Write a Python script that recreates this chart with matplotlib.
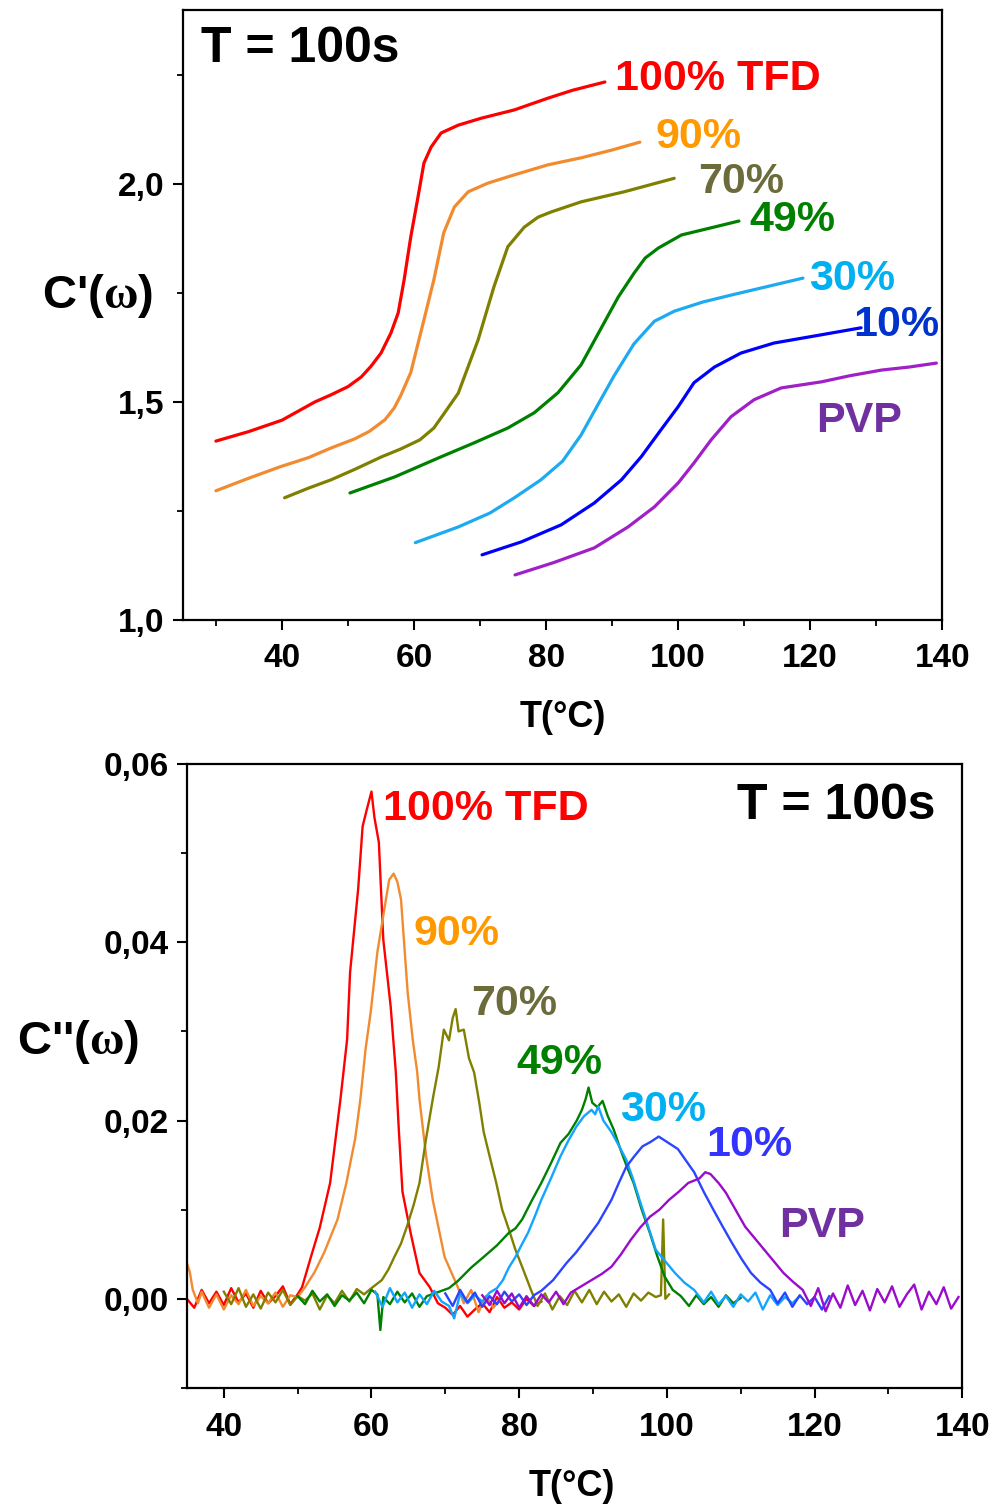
"""Two-panel C'(w) / C''(w) vs temperature, T = 100s."""

import matplotlib

matplotlib.use("Agg")
import matplotlib.pyplot as plt
from matplotlib.ticker import MultipleLocator, FuncFormatter

plt.rcParams["font.family"] = ["Liberation Sans", "DejaVu Sans"]
plt.rcParams["font.weight"] = "bold"
plt.rcParams["mathtext.fontset"] = "custom"
plt.rcParams["mathtext.rm"] = "Liberation Serif"
plt.rcParams["mathtext.it"] = "Liberation Serif"

names = ["100% TFD", "90%", "70%", "49%", "30%", "10%", "PVP"]
line_top = ["#ff0000", "#f28a30", "#808000", "#008000", "#1eaaf1", "#0000ff", "#a020c8"]
line_bot = ["#ff0000", "#f28a30", "#808000", "#008000", "#12a4ff", "#2a44ff", "#9a0ccc"]
label_top = ["#ff0000", "#ff9900", "#6b6b3b", "#008000", "#00b0f0", "#0033cc", "#7030a0"]
label_bot = ["#ff0000", "#ff9900", "#6b6b3b", "#008000", "#00b0f0", "#3333ff", "#7030a0"]

# ---- top panel: C'(w)
t_100 = [30, 35, 40, 45, 47.4, 50, 52, 53.5, 55, 56.5, 57.6, 58.5, 59.5, 60.6, 61.5, 62.6, 64.1, 66.7,
         70.2, 75.2, 80.3, 84, 88.9]
c_100 = [1.41, 1.432, 1.458, 1.50, 1.516, 1.535, 1.557, 1.582, 1.612, 1.658, 1.704, 1.78, 1.878, 1.97,
         2.048, 2.085, 2.117, 2.135, 2.151, 2.17, 2.197, 2.215, 2.234]
t_90 = [30, 35, 39.7, 44, 47.4, 51, 53.2, 55.6, 57, 58, 59.5, 61.5, 63, 64.5, 66.1, 68.2, 71.2, 75.2,
        80.3, 85.3, 90, 94.2]
c_90 = [1.296, 1.325, 1.351, 1.372, 1.394, 1.415, 1.432, 1.459, 1.486, 1.515, 1.567, 1.688, 1.78, 1.888,
        1.947, 1.982, 2.002, 2.021, 2.044, 2.06, 2.078, 2.096]
t_70 = [40.4, 44, 47.4, 51, 55.1, 58, 60.9, 63, 64.4, 66.7, 69.7, 72.1, 74.2, 76.7, 78.8, 80.8, 85.3,
        91.8, 99.4]
c_70 = [1.28, 1.302, 1.321, 1.345, 1.374, 1.392, 1.413, 1.44, 1.47, 1.52, 1.642, 1.764, 1.856, 1.901,
        1.924, 1.936, 1.959, 1.982, 2.013]
t_49 = [50.3, 57.1, 64.1, 69.1, 74.2, 78.2, 81.8, 85.3, 88.3, 90.9, 93.3, 95, 97, 100.5, 103.5, 106.5,
        109.2]
c_49 = [1.291, 1.328, 1.374, 1.406, 1.44, 1.475, 1.521, 1.585, 1.668, 1.74, 1.795, 1.83, 1.853, 1.883,
        1.894, 1.905, 1.915]
t_30 = [60.2, 66.7, 71.5, 75.2, 79.2, 82.5, 85.3, 87.9, 90.3, 93.3, 96.4, 99.4, 103.7, 108, 113.6, 118.9]
c_30 = [1.177, 1.213, 1.245, 1.28, 1.321, 1.364, 1.424, 1.495, 1.56, 1.633, 1.685, 1.708, 1.729, 1.745,
        1.765, 1.784]
t_10 = [70.3, 76.3, 82.3, 87.3, 91.4, 94.4, 97.4, 100, 102.4, 105.5, 109.5, 114.5, 121.7, 127.7]
c_10 = [1.149, 1.179, 1.218, 1.268, 1.321, 1.374, 1.436, 1.489, 1.544, 1.58, 1.612, 1.635, 1.654, 1.67]
t_pvp = [75.3, 81.1, 87.3, 92.4, 96.4, 100, 102.4, 105, 108, 111.5, 115.6, 121.7, 126, 130.8, 135, 139.1]
c_pvp = [1.103, 1.131, 1.165, 1.213, 1.259, 1.314, 1.36, 1.413, 1.466, 1.505, 1.532, 1.546, 1.56, 1.573,
         1.58, 1.589]

top_t = [t_100, t_90, t_70, t_49, t_30, t_10, t_pvp]
top_c = [c_100, c_90, c_70, c_49, c_30, c_10, c_pvp]
top_lab_x = [90.5, 96.5, 103, 110.8, 119.8, 126.5, 120.9]
top_lab_y = [2.24, 2.108, 2.005, 1.918, 1.783, 1.677, 1.455]

# ---- bottom panel: C''(w)
b_t_100 = [35, 36, 37, 38, 39, 40, 41, 42, 43, 44, 45, 46, 47, 48, 49, 50, 50.6, 51.8, 53, 54.4, 55.8,
           56.7, 57.1, 58.2, 58.8, 59.4, 60, 60.4, 61, 61.6, 62.6, 63.3, 63.7, 64.2, 65.3, 66.5, 67.9, 69,
           70, 71, 72, 73, 74, 75, 76, 77, 78, 79, 80, 81, 82, 83]
b_v_100 = [0.0, -0.001, 0.001, -0.0005, 0.0008, -0.0007, 0.0012, -0.0004, 0.0006, -0.001, 0.0009,
           -0.0005, 0.0003, 0.0014, -0.0006, 0.0005, 0.0013, 0.0047, 0.008, 0.013, 0.0224, 0.0291,
           0.0366, 0.046, 0.053, 0.055, 0.0569, 0.054, 0.0512, 0.0403, 0.0328, 0.0254, 0.019, 0.012,
           0.0074, 0.0029, 0.0013, -0.0005, -0.001, -0.0018, -0.0008, -0.002, -0.0012, -0.0005,
           -0.0015, 0.0002, -0.001, -0.0004, -0.0012, 0.0, -0.0008, -0.0003]
b_t_90 = [35, 35.4, 35.8, 36.5, 37, 38, 39, 40, 41, 42, 43, 44, 45, 46, 47, 48, 49, 50, 51, 52.3, 53.6,
          55.4, 56.6, 57.8, 58.5, 59.2, 59.9, 60.8, 61.8, 62.4, 63, 63.5, 64, 64.9, 65.6, 66.2, 66.5,
          67.4, 68.3, 69.9, 71.7, 72.5, 73.5, 74.5, 75.5, 76.5, 77.5]
b_v_90 = [0.004, 0.003, 0.001, -0.0005, 0.0008, -0.001, 0.0005, -0.0012, 0.0004, -0.0006, 0.001,
          -0.0008, 0.0003, -0.0005, 0.0007, -0.0009, 0.0004, 0.0002, 0.0013, 0.003, 0.0052, 0.0089,
          0.013, 0.018, 0.0224, 0.028, 0.0322, 0.0389, 0.044, 0.047, 0.0477, 0.0468, 0.0448, 0.0344,
          0.029, 0.0254, 0.0224, 0.016, 0.0111, 0.0047, 0.0013, -0.0005, 0.001, -0.0015, 0.0003,
          -0.001, 0.0]
b_t_70 = [40, 41, 42, 43, 44, 45, 46, 47, 48, 49, 50, 51, 52, 53, 54, 55, 56, 57, 58, 59, 60, 61.4,
          62.3, 63.1, 64, 64.8, 65.7, 66.5, 67.4, 68.3, 69.1, 69.8, 70.5, 71, 71.4, 71.8, 72.5, 73.2,
          73.9, 74.6, 75.2, 76, 76.9, 77.7, 78.6, 79.5, 80.4, 81.6, 82.5, 83.5, 84.5, 85.5, 86.5, 87.5,
          88.5, 89.5, 90.5, 91.5, 92.5, 93.5, 94.5, 95.5, 96.5, 97.5, 98.5, 99.2, 99.5, 99.8, 100.3]
b_v_70 = [0.0008, -0.0006, 0.0012, -0.0009, 0.0005, -0.0011, 0.0007, -0.0004, 0.001, -0.0007, 0.0003,
          -0.0002, 0.0006, -0.0012, 0.0004, -0.0005, 0.0009, -0.0003, 0.0011, 0.0005, 0.0012, 0.0021,
          0.0033, 0.0047, 0.0062, 0.0081, 0.0105, 0.013, 0.018, 0.0224, 0.026, 0.0302, 0.029, 0.0315,
          0.0325, 0.03, 0.0302, 0.027, 0.0254, 0.022, 0.0187, 0.016, 0.013, 0.01, 0.0078, 0.0055,
          0.0036, 0.001, -0.0008, 0.0006, -0.0012, 0.0003, -0.0007, 0.0009, -0.0004, 0.001, -0.0006,
          0.0008, -0.0003, 0.0005, -0.0009, 0.0006, -0.0002, 0.0007, 0.0002, 0.0004, 0.0089, 0.0,
          0.0005]
b_t_49 = [50, 51, 52, 53, 54, 55, 56, 57, 58, 59, 60, 60.8, 61.2, 61.6, 62.5, 63.5, 64.5, 65.5, 66.5,
          67.5, 68.5, 69.5, 70.5, 71.7, 73.5, 75.2, 77, 78.6, 79.5, 80.4, 81.7, 83, 84.3, 85.6, 86.7,
          87.8, 88.5, 89, 89.4, 89.9, 90.6, 91.3, 92, 92.8, 93.7, 94.6, 95.5, 96.6, 97.7, 98.7, 99.7,
          100.8, 101.9, 103, 104, 105, 106, 107, 108, 109, 110]
b_v_49 = [0.0003, -0.0006, 0.0009, -0.0003, 0.0005, -0.0008, 0.0004, -0.0002, 0.0007, -0.0005, 0.001,
          0.0005, -0.0035, 0.0002, -0.0006, 0.0008, -0.0004, 0.0006, -0.0009, 0.0003, 0.0006, 0.0009,
          0.0012, 0.002, 0.0035, 0.0047, 0.006, 0.0074, 0.0079, 0.0089, 0.011, 0.013, 0.0152, 0.0175,
          0.0185, 0.02, 0.0212, 0.0224, 0.0237, 0.022, 0.0215, 0.0222, 0.0205, 0.019, 0.0168, 0.0148,
          0.013, 0.01, 0.0074, 0.0048, 0.0025, 0.001, 0.0003, -0.0008, 0.0004, -0.0006, 0.0002,
          -0.0009, 0.0004, -0.0005, 0.0001]
b_t_30 = [60.5, 61.5, 62.5, 63.5, 64.5, 65.5, 66.5, 67.5, 68.5, 69.5, 70.5, 71.2, 72, 73, 74, 75, 76,
          77, 77.8, 78.6, 79.5, 80.3, 81.2, 82.1, 83, 84.3, 85.6, 86.7, 87.8, 88.8, 89.8, 90.3, 90.7,
          91.4, 92.5, 93.5, 94.5, 95.4, 96.3, 97.4, 98.5, 99.8, 101.1, 102.4, 103.7, 105, 106, 107,
          108, 109, 110, 111, 112, 113, 114, 115, 116, 117, 118]
b_v_30 = [0.0008, -0.0009, 0.0012, -0.0004, 0.0007, -0.001, 0.0005, -0.0006, 0.0009, -0.0003, -0.0008,
          -0.0022, 0.0006, -0.0005, 0.0004, -0.0003, 0.0007, 0.0012, 0.0021, 0.0035, 0.0047, 0.006,
          0.0074, 0.0092, 0.0111, 0.0135, 0.016, 0.0178, 0.0194, 0.0205, 0.0212, 0.0207, 0.0216, 0.02,
          0.0187, 0.0172, 0.0156, 0.0135, 0.0111, 0.0083, 0.0055, 0.0042, 0.0029, 0.0018, 0.001,
          -0.0004, 0.0008, -0.0006, 0.0003, -0.0009, 0.0005, -0.0003, 0.0007, -0.0012, 0.0004,
          -0.0007, 0.0002, -0.0005, 0.0003]
b_t_10 = [70, 71, 72, 73, 74, 75, 76, 77, 78, 79, 80, 81, 82, 83, 84.6, 86.4, 87.7, 89, 90.7, 91.6,
          92.5, 93.5, 94.5, 95.6, 96.7, 97.8, 98.9, 100.2, 101.5, 102.6, 103.7, 105, 106.3, 107.5, 108.8,
          110.1, 111.4, 112.7, 114, 115, 116, 117, 118, 119, 120, 121, 122]
b_v_10 = [0.0006, -0.0008, 0.001, -0.0004, 0.0007, -0.0009, 0.0003, -0.0006, 0.0008, -0.0003, 0.0005,
          -0.0007, 0.0004, 0.0009, 0.0021, 0.004, 0.0052, 0.0066, 0.0085, 0.0098, 0.0111, 0.013, 0.0148,
          0.016, 0.0171, 0.0176, 0.0182, 0.0175, 0.0168, 0.0155, 0.0142, 0.012, 0.01, 0.0082, 0.0063,
          0.0045, 0.0029, 0.0018, 0.001, -0.0005, 0.0007, -0.0009, 0.0004, -0.0006, 0.0002, -0.0012,
          0.0003]
b_t_pvp = [75, 76, 77, 78, 79, 80, 81, 82, 83, 84, 85, 86, 87, 88, 89.8, 91.2, 92.5, 93.8, 95.1, 96.4,
           97.7, 99, 100.3, 101.6, 102.9, 104.4, 105.2, 105.9, 107, 108, 109.3, 110.6, 111.9, 113.2,
           114.5, 115.8, 117.1, 118.4, 119.5, 120.5, 121.5, 122.5, 123.5, 124.5, 125.5, 126.5, 127.5,
           128.5, 129.5, 130.5, 131.5, 132.5, 133.5, 134.5, 135.5, 136.5, 137.5, 138.5, 139.5]
b_v_pvp = [0.0004, -0.0007, 0.0009, -0.0005, 0.0006, -0.001, 0.0003, -0.0008, 0.0005, -0.0004, 0.0008,
           -0.0006, 0.0007, 0.0012, 0.0021, 0.0028, 0.0036, 0.005, 0.0066, 0.008, 0.0092, 0.01, 0.0111,
           0.012, 0.013, 0.0135, 0.0142, 0.014, 0.013, 0.0119, 0.01, 0.0081, 0.0068, 0.0055, 0.0042,
           0.0029, 0.0019, 0.001, -0.0008, 0.0012, -0.0014, 0.0006, -0.001, 0.0015, -0.0007, 0.0009,
           -0.0013, 0.0011, -0.0004, 0.0014, -0.0009, 0.0005, 0.0016, -0.0012, 0.0008, -0.0006, 0.0013,
           -0.0011, 0.0002]

bot_t = [b_t_100, b_t_90, b_t_70, b_t_49, b_t_30, b_t_10, b_t_pvp]
bot_v = [b_v_100, b_v_90, b_v_70, b_v_49, b_v_30, b_v_10, b_v_pvp]
bot_lab_x = [61.6, 65.7, 73.5, 79.6, 93.7, 105.3, 115.2]
bot_lab_y = [0.0549, 0.0409, 0.0331, 0.0265, 0.0212, 0.0173, 0.0082]


def comma(fmt):
    return FuncFormatter(lambda v, _: format(v, fmt).replace(".", ","))


def style_axes(ax):
    for s in ax.spines.values():
        s.set_linewidth(1.6)
    ax.tick_params(which="major", direction="out", length=7, width=1.5, labelsize=24)
    ax.tick_params(which="minor", direction="out", length=4, width=1.3)
    ax.tick_params(axis="x", which="major", pad=10)
    ax.tick_params(axis="y", which="major", pad=6)
    for lab in ax.get_xticklabels() + ax.get_yticklabels():
        lab.set_fontweight("bold")


fig = plt.figure(figsize=(9.94, 15.08), dpi=100)
ax1 = fig.add_axes([0.184, 0.589, 0.764, 0.4046])
ax2 = fig.add_axes([0.188, 0.0796, 0.780, 0.4138])

for t, c, col in zip(top_t, top_c, line_top):
    ax1.plot(t, c, color=col, linewidth=2.3, solid_capstyle="round", solid_joinstyle="round")
for name, x, y, col in zip(names, top_lab_x, top_lab_y, label_top):
    ax1.text(x, y, name, color=col, fontsize=31, fontweight="bold", va="center", ha="left")
ax1.text(0.024, 0.935, "T = 100s", transform=ax1.transAxes, fontsize=36, fontweight="bold",
         va="center", ha="left")
ax1.set_xlim(25, 140)
ax1.set_ylim(1.0, 2.4)
ax1.xaxis.set_major_locator(MultipleLocator(20))
ax1.xaxis.set_minor_locator(MultipleLocator(10))
ax1.yaxis.set_major_locator(MultipleLocator(0.5))
ax1.yaxis.set_minor_locator(MultipleLocator(0.25))
ax1.yaxis.set_major_formatter(comma(".1f"))
style_axes(ax1)

for t, v, col in zip(bot_t, bot_v, line_bot):
    ax2.plot(t, v, color=col, linewidth=1.7, solid_joinstyle="round")
for name, x, y, col in zip(names, bot_lab_x, bot_lab_y, label_bot):
    ax2.text(x, y, name, color=col, fontsize=31, fontweight="bold", va="center", ha="left")
ax2.text(0.965, 0.932, "T = 100s", transform=ax2.transAxes, fontsize=36, fontweight="bold",
         va="center", ha="right")
ax2.set_xlim(35, 140)
ax2.set_ylim(-0.01, 0.06)
ax2.xaxis.set_major_locator(MultipleLocator(20))
ax2.xaxis.set_minor_locator(MultipleLocator(10))
ax2.yaxis.set_major_locator(MultipleLocator(0.02))
ax2.yaxis.set_minor_locator(MultipleLocator(0.01))
ax2.yaxis.set_major_formatter(comma(".2f"))
style_axes(ax2)

fig.text(0.0976, 0.804, r"C'($\mathrm{\omega}$)", fontsize=34, fontweight="bold", ha="center", va="center")
fig.text(0.0785, 0.309, r"C''($\mathrm{\omega}$)", fontsize=34, fontweight="bold", ha="center", va="center")
fig.text(0.566, 0.5245, "T(\u00b0C)", fontsize=26, fontweight="bold", ha="center", va="center")
fig.text(0.575, 0.014, "T(\u00b0C)", fontsize=26, fontweight="bold", ha="center", va="center")

fig.savefig("out.png", dpi=100)
